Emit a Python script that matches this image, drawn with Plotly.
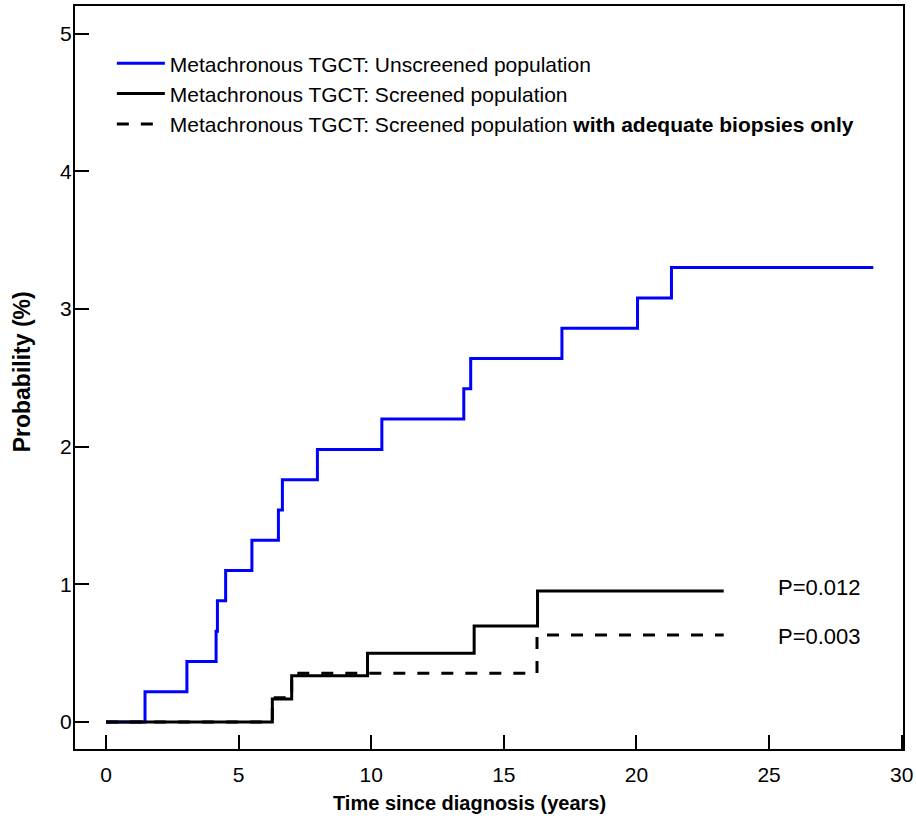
import plotly.graph_objects as go

# Unscreened population (blue)
t_unscreened = [0, 1.47, 3.05, 4.15, 4.2, 4.51, 5.5, 6.5, 6.65, 7.97, 10.4, 13.49, 13.75, 17.19, 20.04, 21.32, 28.93]
p_unscreened = [0, 0.22, 0.44, 0.66, 0.88, 1.10, 1.32, 1.54, 1.76, 1.98, 2.20, 2.42, 2.64, 2.86, 3.08, 3.30, 3.30]

# Screened population (solid black)
t_screened = [0, 6.27, 7.0, 9.86, 13.88, 16.27, 23.29]
p_screened = [0, 0.168, 0.336, 0.499, 0.698, 0.952, 0.952]

# Screened population with adequate biopsies only (dashed black)
t_adequate = [0, 6.27, 7.0, 16.25, 23.29]
p_adequate = [0, 0.177, 0.354, 0.632, 0.632]

x_ticks = [0, 5, 10, 15, 20, 25, 30]
y_ticks = [0, 1, 2, 3, 4, 5]

p_labels = ["P=0.012", "P=0.003"]
p_label_y = [0.98, 0.62]
p_label_x = 25.25

x_title = "<b>Time since diagnosis (years)</b>"
y_title = "<b>Probability (%)</b>"

FONT = "Liberation Sans, Arial, Helvetica, sans-serif"

fig = go.Figure()
fig.add_trace(go.Scatter(
    x=t_unscreened, y=p_unscreened, mode="lines", line_shape="hv",
    line=dict(color="#0000ff", width=3),
    name="Metachronous TGCT: Unscreened population"))
fig.add_trace(go.Scatter(
    x=t_screened, y=p_screened, mode="lines", line_shape="hv",
    line=dict(color="black", width=3),
    name="Metachronous TGCT: Screened population"))
fig.add_trace(go.Scatter(
    x=t_adequate, y=p_adequate, mode="lines", line_shape="hv",
    line=dict(color="black", width=3, dash="12px,12px"),
    name="Metachronous TGCT: Screened population <b>with adequate biopsies only</b>"))

for txt, yy in zip(p_labels, p_label_y):
    fig.add_annotation(x=p_label_x, y=yy, text=txt, showarrow=False,
                       xanchor="left", yanchor="middle",
                       font=dict(family=FONT, size=22, color="black"))

# axis titles as paper-positioned annotations
fig.add_annotation(xref="paper", yref="paper", x=0.477, y=-0.0727,
                   text=x_title, showarrow=False, xanchor="center", yanchor="middle",
                   font=dict(family=FONT, size=20, color="black"))
fig.add_annotation(xref="paper", yref="paper", x=-0.064, y=0.507,
                   text=y_title, showarrow=False, textangle=-90,
                   xanchor="center", yanchor="middle",
                   font=dict(family=FONT, size=23, color="black"))

fig.update_layout(
    width=916, height=820,
    margin=dict(l=75, r=13, t=6, b=71),
    paper_bgcolor="white", plot_bgcolor="white",
    font=dict(family=FONT, color="black"),
    showlegend=True,
    legend=dict(x=0.0445, y=0.950, xanchor="left", yanchor="top",
                font=dict(family=FONT, size=21, color="black"),
                bgcolor="rgba(0,0,0,0)", itemwidth=48,
                tracegroupgap=0),
)
fig.update_xaxes(
    range=[-1.17, 30.05], tickvals=x_ticks, ticks="inside", ticklen=14,
    tickwidth=1.5, tickcolor="black", showgrid=False, zeroline=False,
    showline=True, linecolor="black", linewidth=2, mirror=True,
    tickfont=dict(family=FONT, size=21, color="black"),
    ticklabelstandoff=6, automargin=False)
fig.update_yaxes(
    range=[-0.196, 5.2], tickvals=y_ticks, ticks="inside", ticklen=14,
    tickwidth=1.5, tickcolor="black", showgrid=False, zeroline=False,
    showline=True, linecolor="black", linewidth=2, mirror=True,
    tickfont=dict(family=FONT, size=21, color="black"),
    ticklabelstandoff=-3, automargin=False)

fig.write_html("out.html", config={"displayModeBar": False},
               post_script="document.body.style.margin='0';document.body.style.overflow='hidden';")
